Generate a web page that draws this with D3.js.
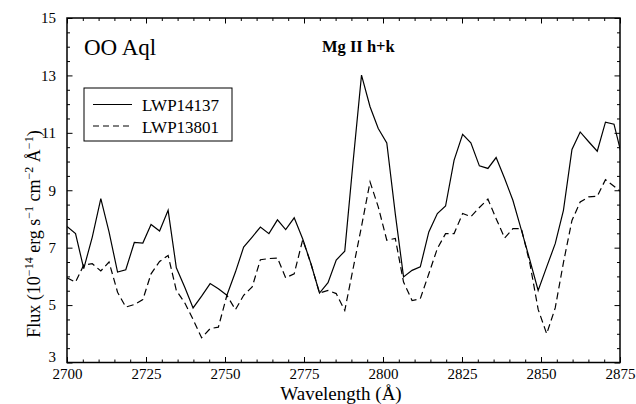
<!DOCTYPE html>
<html>
<head>
<meta charset="utf-8">
<script src="https://d3js.org/d3.v7.min.js"></script>
<style>
  body { margin: 0; background: #fff; }
  text { font-family: "Liberation Serif", "Times New Roman", serif; fill: #000; }
</style>
</head>
<body>
<div id="chart"></div>
<script>
// wavelength bins (Angstrom)
const wavelength = [2700.0, 2702.7, 2705.3, 2708.0, 2710.7, 2713.3, 2716.0, 2718.6, 2721.3, 2724.0,
  2726.6, 2729.3, 2732.0, 2734.6, 2737.3, 2739.9, 2742.6, 2745.3, 2747.9, 2750.6,
  2753.3, 2755.9, 2758.6, 2761.2, 2763.9, 2766.6, 2769.2, 2771.9, 2774.6, 2777.2,
  2779.9, 2782.6, 2785.2, 2787.9, 2790.5, 2793.2, 2795.9, 2798.5, 2801.2, 2803.9,
  2806.5, 2809.2, 2811.8, 2814.5, 2817.2, 2819.8, 2822.5, 2825.2, 2827.8, 2830.5,
  2833.2, 2835.8, 2838.5, 2841.1, 2843.8, 2846.5, 2849.1, 2851.8, 2854.5, 2857.1,
  2859.8, 2862.4, 2865.1, 2867.8, 2870.4, 2873.1, 2875.8];

// flux, 10^-14 erg/s/cm2/A
const lwp14137 = [7.74, 7.49, 6.27, 7.37, 8.71, 7.55, 6.15, 6.23, 7.18, 7.16,
  7.81, 7.58, 8.30, 6.30, 5.61, 4.90, 5.31, 5.75, 5.57, 5.34,
  6.15, 7.02, 7.37, 7.72, 7.49, 7.97, 7.63, 8.04, 7.30, 6.44,
  5.42, 5.78, 6.57, 6.88, 9.95, 13.01, 11.91, 11.15, 10.65, 8.17,
  5.98, 6.21, 6.33, 7.55, 8.19, 8.45, 10.05, 10.95, 10.65, 9.85,
  9.76, 10.14, 9.41, 8.65, 7.61, 6.56, 5.51, 6.33, 7.14, 8.30,
  10.42, 11.03, 10.69, 10.36, 11.37, 11.30, 10.10];

const lwp13801 = [5.95, 5.80, 6.40, 6.44, 6.19, 6.50, 5.45, 4.93, 5.02, 5.19,
  6.09, 6.52, 6.73, 5.51, 5.07, 4.50, 3.86, 4.18, 4.23, 5.34,
  4.84, 5.34, 5.63, 6.58, 6.62, 6.64, 5.95, 6.09, 7.28, 6.44,
  5.42, 5.51, 5.40, 4.81, 6.25, 7.74, 9.29, 8.42, 7.26, 7.32,
  5.80, 5.16, 5.22, 6.09, 6.97, 7.49, 7.49, 8.19, 8.08, 8.40,
  8.69, 8.01, 7.34, 7.66, 7.66, 6.44, 4.85, 4.00, 4.90, 6.48,
  7.95, 8.59, 8.77, 8.79, 9.37, 9.14, 8.90];

const seriesNames = ["LWP14137", "LWP13801"];
const xMajor = [2700, 2725, 2750, 2775, 2800, 2825, 2850, 2875];
const yMajor = [3, 5, 7, 9, 11, 13, 15];

const W = 636, H = 404;
const margin = {top: 18, right: 16, bottom: 41.5, left: 67},
    width = W - margin.left - margin.right,
    height = H - margin.top - margin.bottom;

const svg = d3.select("#chart")
  .append("svg")
    .attr("width", W)
    .attr("height", H);

const g = svg.append("g")
    .attr("transform", `translate(${margin.left}, ${margin.top})`);

const x = d3.scaleLinear().domain([2700, 2875]).range([0, width]);
const y = d3.scaleLinear().domain([3, 15]).range([height, 0]);

const xMinor = d3.range(2700, 2876, 5).filter(d => !xMajor.includes(d));
const yMinor = d3.range(3, 15.01, 0.5).filter(d => !yMajor.includes(d));

// ticks: inward on all four sides
function drawAxis(axisFn, scale, major, minor, transform, labels) {
  const gMin = g.append("g").attr("transform", transform)
    .call(axisFn(scale).tickValues(minor).tickSize(-3).tickFormat(""));
  const gMaj = g.append("g").attr("transform", transform)
    .call(axisFn(scale).tickValues(major).tickSize(-5.5).tickPadding(labels ? 12 : 0)
      .tickFormat(labels ? d3.format("d") : ""));
  [gMin, gMaj].forEach(a => {
    a.attr("font-family", null);
    a.select(".domain").remove();
    a.selectAll("line").attr("stroke", "#000").attr("stroke-width", 1);
  });
  gMaj.selectAll("text").style("font-size", "15px")
    .style("font-family", "'Liberation Serif', serif");
  return gMaj;
}

const bx = drawAxis(d3.axisBottom, x, xMajor, xMinor, `translate(0,${height})`, true);
bx.selectAll("text").attr("y", 6).attr("dy", "0.71em");
drawAxis(d3.axisTop, x, xMajor, xMinor, "translate(0,0)", false);
const ly = drawAxis(d3.axisLeft, y, yMajor, yMinor, "translate(0,0)", true);
ly.selectAll("text").attr("x", -11);
// lowest label sits a little higher, clear of 2700
ly.selectAll("text").filter(d => d === 3).attr("dy", "-0.05em");
drawAxis(d3.axisRight, y, yMajor, yMinor, `translate(${width},0)`, false);

// frame
g.append("rect")
  .attr("width", width).attr("height", height)
  .attr("fill", "none").attr("stroke", "#000").attr("stroke-width", 1.5);

g.append("clipPath").attr("id", "plotclip")
  .append("rect").attr("width", width).attr("height", height);

const line = d3.line()
  .x((d, i) => x(wavelength[i]))
  .y(d => y(d));

const plot = g.append("g").attr("clip-path", "url(#plotclip)");
plot.append("path").datum(lwp14137)
  .attr("d", line)
  .attr("fill", "none").attr("stroke", "#000").attr("stroke-width", 1.2);
plot.append("path").datum(lwp13801)
  .attr("d", line)
  .attr("fill", "none").attr("stroke", "#000").attr("stroke-width", 1.2)
  .attr("stroke-dasharray", "7,4");

// star name + line annotation
g.append("text")
  .attr("x", 17).attr("y", 37)
  .style("font-size", "23px")
  .text("OO Aql");

g.append("text")
  .attr("x", 255).attr("y", 34)
  .style("font-size", "16.5px").style("font-weight", "bold")
  .text("Mg II h+k");

// legend
const leg = g.append("g").attr("transform", "translate(17,70)");
leg.append("rect")
  .attr("width", 148).attr("height", 53)
  .attr("fill", "#fff").attr("stroke", "#000").attr("stroke-width", 1);
seriesNames.forEach((name, i) => {
  const yy = 16.5 + i * 21.5;
  leg.append("line")
    .attr("x1", 9).attr("x2", 48).attr("y1", yy).attr("y2", yy)
    .attr("stroke", "#000").attr("stroke-width", 1.2)
    .attr("stroke-dasharray", i === 1 ? "6,4" : null);
  leg.append("text")
    .attr("x", 58).attr("y", yy + 6.5)
    .style("font-size", "17px")
    .text(name);
});

// axis titles
svg.append("text")
  .attr("x", 341).attr("y", 400)
  .attr("text-anchor", "middle")
  .style("font-size", "19px")
  .text("Wavelength (Å)");

const yt = svg.append("text")
  .attr("transform", "translate(40,234) rotate(-90)")
  .attr("text-anchor", "middle")
  .style("font-size", "18px");
yt.append("tspan").text("Flux (10");
yt.append("tspan").attr("dy", -7).style("font-size", "12px").text("−14");
yt.append("tspan").attr("dy", 7).text(" erg s");
yt.append("tspan").attr("dy", -7).style("font-size", "12px").text("−1");
yt.append("tspan").attr("dy", 7).text(" cm");
yt.append("tspan").attr("dy", -7).style("font-size", "12px").text("−2");
yt.append("tspan").attr("dy", 7).text(" Å");
yt.append("tspan").attr("dy", -7).style("font-size", "12px").text("−1");
yt.append("tspan").attr("dy", 7).text(")");
</script>
</body>
</html>
